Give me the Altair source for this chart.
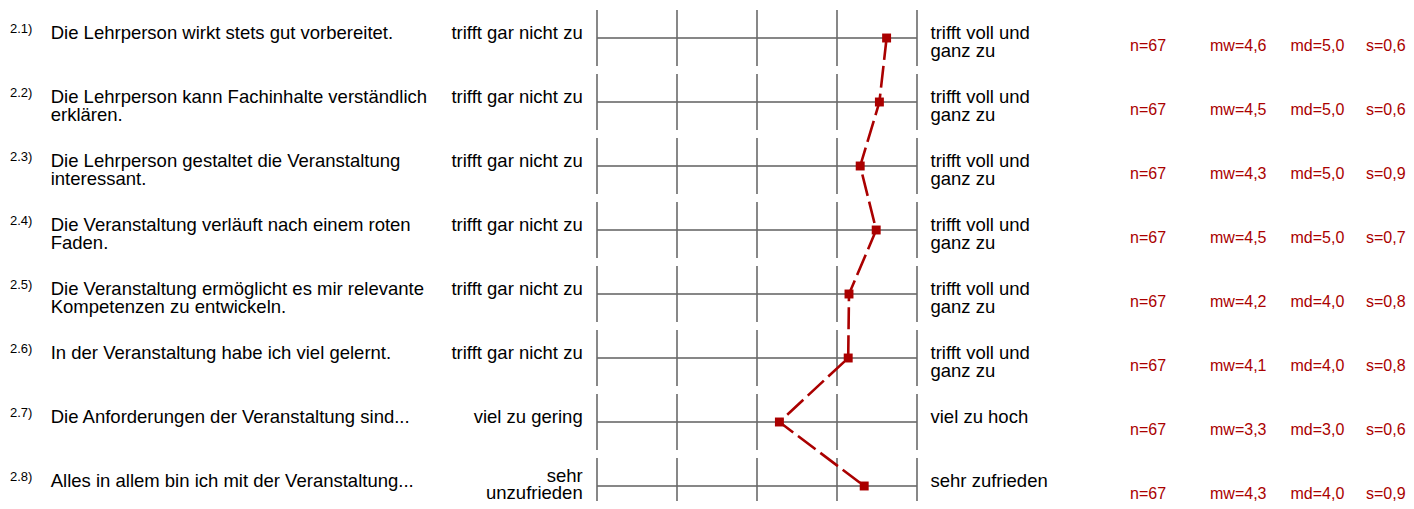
import altair as alt
import pandas as pd

# ---- data ----
rows = [1, 2, 3, 4, 5, 6, 7, 8]
nums = ["2.1)", "2.2)", "2.3)", "2.4)", "2.5)", "2.6)", "2.7)", "2.8)"]
items = [
    "Die Lehrperson wirkt stets gut vorbereitet.",
    "Die Lehrperson kann Fachinhalte verständlich\nerklären.",
    "Die Lehrperson gestaltet die Veranstaltung\ninteressant.",
    "Die Veranstaltung verläuft nach einem roten\nFaden.",
    "Die Veranstaltung ermöglicht es mir relevante\nKompetenzen zu entwickeln.",
    "In der Veranstaltung habe ich viel gelernt.",
    "Die Anforderungen der Veranstaltung sind...",
    "Alles in allem bin ich mit der Veranstaltung...",
]
left_labels = ["trifft gar nicht zu"] * 6 + ["viel zu gering", "sehr\nunzufrieden"]
right_labels = ["trifft voll und\nganz zu"] * 6 + ["viel zu hoch", "sehr zufrieden"]
means = [4.62, 4.53, 4.29, 4.49, 4.15, 4.14, 3.28, 4.34]
n_vals = ["n=67"] * 8
mw_vals = ["mw=4,6", "mw=4,5", "mw=4,3", "mw=4,5", "mw=4,2", "mw=4,1", "mw=3,3", "mw=4,3"]
md_vals = ["md=5,0", "md=5,0", "md=5,0", "md=5,0", "md=4,0", "md=4,0", "md=3,0", "md=4,0"]
s_vals = ["s=0,6", "s=0,6", "s=0,9", "s=0,7", "s=0,8", "s=0,8", "s=0,6", "s=0,9"]
scale_points = [1, 2, 3, 4, 5]

df = pd.DataFrame({
    "row": rows, "num": nums, "item": items, "left": left_labels, "right": right_labels,
    "mean": means, "n": n_vals, "mw": mw_vals, "md": md_vals, "s": s_vals,
})
df["x1"] = scale_points[0]
df["x5"] = scale_points[-1]
ticks = pd.DataFrame([(r, p) for r in rows for p in scale_points], columns=["row", "pos"])

W, H = 1398, 493
xs = alt.Scale(domain=[-6.3625, 11.1125], nice=False, zero=False)
ys = alt.Scale(domain=[0.53125, 8.234375], reverse=True, nice=False, zero=False)
X = lambda f: alt.X(f, type="quantitative", scale=xs, axis=None)
Y = lambda f: alt.Y(f, type="quantitative", scale=ys, axis=None)

RED = "#aa0000"
GRID = "#5f5f5f"
FONT = "Liberation Sans"

base = alt.Chart(df)

hlines = base.mark_rule(color=GRID, strokeWidth=1.3).encode(
    x=X("x1"), x2="x5", y=Y("row"))

vticks = alt.Chart(ticks).transform_calculate(
    y1="datum.row - 0.4375", y2="datum.row + 0.4375"
).mark_rule(color="#6a6a6a", strokeWidth=1.6).encode(
    x=X("pos"), y=Y("y1"), y2="y2")

line = base.mark_line(color=RED, strokeWidth=2.6, strokeDash=[22, 6]).encode(
    x=X("mean"), y=Y("row"), order="row:Q")

pts = base.mark_square(color=RED, size=80, opacity=1).encode(
    x=X("mean"), y=Y("row"))

def txt(field, xpix, align="left", dy=0, size=18.5, color="#000000", lh=18, src=None):
    src = base if src is None else src
    return src.mark_text(
        align=align, baseline="alphabetic", dy=dy, fontSize=size, font=FONT,
        color=color, lineBreak="\n", lineHeight=lh,
    ).encode(x=alt.value(xpix), y=Y("row"), text=f"{field}:N")

left_main = base.transform_filter("datum.row < 8")
left_last = base.transform_filter("datum.row == 8")

layers = [
    hlines, vticks, line, pts,
    txt("num", 2, dy=-5, size=13),
    txt("item", 42.7, dy=1),
    txt("left", 574.7, align="right", dy=1, src=left_main),
    txt("left", 574.7, align="right", dy=-4, lh=17, src=left_last),
    txt("right", 922.5, dy=1),
    txt("n", 1122, dy=13, size=16, color=RED),
    txt("mw", 1202, dy=13, size=16, color=RED),
    txt("md", 1282.5, dy=13, size=16, color=RED),
    txt("s", 1358, dy=13, size=16, color=RED),
]

chart = alt.layer(*layers).properties(
    width=W, height=H, autosize=alt.AutoSizeParams(type="none"),
    padding=0, background="white",
).configure_view(strokeWidth=0, stroke="transparent")

chart.save("out.html", embed_options={"renderer": "svg", "actions": False})
